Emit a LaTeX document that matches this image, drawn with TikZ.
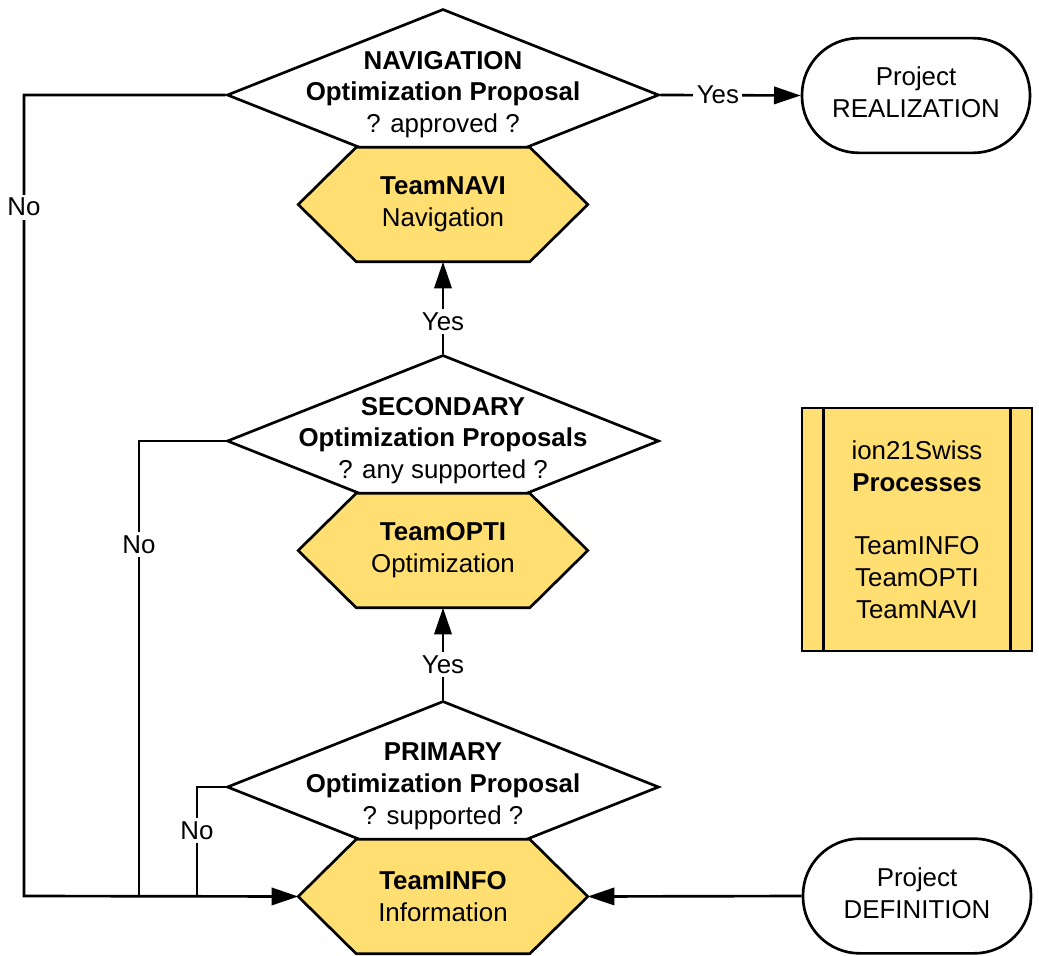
\documentclass[tikz,border=0pt]{standalone}
\usepackage{fontspec}
\setmainfont{Liberation Sans}
\usetikzlibrary{shapes.geometric,arrows.meta,calc}
\definecolor{teamyellow}{HTML}{FFDF71}
\pgfdeclarelayer{decisionlayer}
\pgfdeclarelayer{teamlayer}
\pgfsetlayers{decisionlayer,teamlayer,main}

% hexagonal outline around a team node
\newcommand\teamhex[1]{%
  \path[teamshape] (#1.west) -- ($(#1.north west)+(58,0)$) -- ($(#1.north east)+(-58,0)$)
    -- (#1.east) -- ($(#1.south east)+(-58,0)$) -- ($(#1.south west)+(58,0)$) -- cycle;}

\begin{document}
\begin{tikzpicture}[x=0.75pt,y=-0.75pt,
  every node/.style={font=\fontsize{19.4}{23.8}\selectfont, align=center, inner sep=0pt},
  line/.style={line width=2pt, draw=black},
  arrowline/.style={line, -{Triangle[length=20pt,width=13pt]}},
  decision/.style={diamond, draw, line width=2pt, fill=white, minimum width=324pt, minimum height=129pt},
  teambox/.style={minimum width=216.75pt, minimum height=85.5pt},
  teamshape/.style={draw, line width=2pt, fill=teamyellow, line join=miter},
  terminal/.style={draw, line width=2pt, fill=white, rounded corners=42.5pt, minimum width=171pt, minimum height=86pt},
  lbl/.style={fill=white, inner sep=2.5pt}
]
\useasboundingbox (0,0) rectangle (1039,956);

% decision diamonds (lowest layer)
\begin{pgfonlayer}{decisionlayer}
  \node[decision] (d1) at (443,95) {};
  \node[decision] (d2) at (443,441) {};
  \node[decision] (d3) at (443,787) {};
\end{pgfonlayer}

% decision texts
\node (d1t) at (443,94.5) {\textbf{NAVIGATION}\\\textbf{Optimization Proposal}\\? approved ?};
\node (d2t) at (443,440.5) {\textbf{SECONDARY}\\\textbf{Optimization Proposals}\\? any supported ?};
\node (d3t) at (443,786.5) {\textbf{PRIMARY}\\\textbf{Optimization Proposal}\\? supported ?};

% team nodes
\node[teambox] (h1) at (443,204.5) {\textbf{TeamNAVI}\\Navigation};
\node[teambox] (h2) at (443,550.5) {\textbf{TeamOPTI}\\Optimization};
\node[teambox] (h3) at (443,896.5) {\textbf{TeamINFO}\\Information};

\begin{pgfonlayer}{teamlayer}
  \teamhex{h1}
  \teamhex{h2}
  \teamhex{h3}
\end{pgfonlayer}

% terminals
\node[terminal] (real) at (916,95.5) {};
\node (realt) at (916,92.5) {Project\\REALIZATION};
\node[terminal] (def) at (917,896) {};
\node (deft) at (917,893) {Project\\DEFINITION};

% process legend
\node[draw, line width=2pt, fill=teamyellow, minimum width=172.5pt, minimum height=182.25pt] (proc) at (917,529.5)
  {ion21Swiss\\\textbf{Processes}\\[23.8pt]TeamINFO\\TeamOPTI\\TeamNAVI};
\draw[line] ($(proc.north west)+(23,0)$) -- ($(proc.south west)+(23,0)$);
\draw[line] ($(proc.north east)+(-23,0)$) -- ($(proc.south east)+(-23,0)$);

% connectors
\coordinate (n1) at (24,896);
\coordinate (n2) at (139,896);
\coordinate (n3) at (197,896);

\draw[arrowline] (d1.east) -- node[lbl,pos=0.41] {Yes} (real.west);
\draw[arrowline] (d2.north) -- node[lbl,pos=0.35] {Yes} (h1.south);
\draw[arrowline] (d3.north) -- node[lbl,pos=0.38] {Yes} (h2.south);

\draw[arrowline] (d1.west) -| node[lbl,pos=0.57] {No} (n1) -- (h3.west);
\draw[line] (d2.west) -| node[lbl,pos=0.614] {No} (n2);
\draw[line] (d3.west) -| node[lbl,pos=0.70] {No} (n3);

\draw[arrowline] (def.west) -- (h3.east);
\end{tikzpicture}
\end{document}
